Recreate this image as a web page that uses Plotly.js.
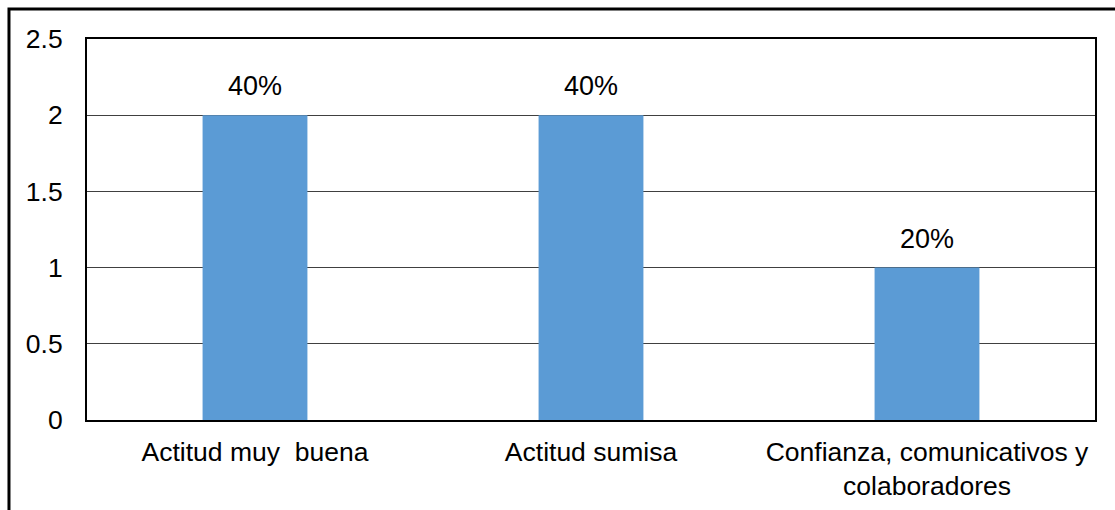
<!DOCTYPE html>
<html>
<head>
<meta charset="utf-8">
<script src="https://cdn.plot.ly/plotly-3.0.1.min.js"></script>
<style>
html,body{margin:0;padding:0;background:#fff;}
#chart{width:1115px;height:510px;}
</style>
</head>
<body>
<div id="chart"></div>
<script>
const categories = ["Actitud muy  buena", "Actitud sumisa", "Confianza, comunicativos y<br>colaboradores"];
const values = [2, 2, 1];
const labels = ["40%", "40%", "20%"];
const yTicks = [0, 0.5, 1, 1.5, 2, 2.5];
const yTickText = ["0", "0.5", "1", "1.5", "2", "2.5"];

const FONT = "Liberation Sans, Arial, sans-serif";

const trace = {
  type: "bar",
  x: categories,
  y: values,
  marker: {color: "#5B9BD5", line: {width: 0}},
  hoverinfo: "none"
};

const annotations = categories.map((c, i) => ({
  x: c, y: values[i], xref: "x", yref: "y",
  text: labels[i], showarrow: false,
  yanchor: "bottom", yshift: 12,
  font: {family: FONT, size: 27, color: "#000"}
}));

const frame = {
  type: "rect", xref: "paper", yref: "paper",
  x0: -0.0774, x1: 1.1, y0: -0.3, y1: 1.0787,
  line: {color: "#000", width: 3}, fillcolor: "rgba(0,0,0,0)", layer: "above"
};

const layout = {
  width: 1115, height: 510,
  margin: {l: 87, r: 20, t: 39, b: 90, pad: 0},
  paper_bgcolor: "#fff", plot_bgcolor: "#fff",
  showlegend: false,
  bargap: 0.688,
  font: {family: FONT, color: "#000"},
  xaxis: {
    type: "category",
    showgrid: false, zeroline: false,
    showline: true, linecolor: "#000", linewidth: 2, mirror: true,
    ticks: "", ticklabelstandoff: 7,
    tickfont: {family: FONT, size: 26.5, color: "#000"}
  },
  yaxis: {
    range: [0, 2.5], tickmode: "array", tickvals: yTicks, ticktext: yTickText,
    showgrid: true, gridcolor: "#404040", gridwidth: 1,
    zeroline: false,
    showline: true, linecolor: "#000", linewidth: 2, mirror: true,
    ticks: "", ticklabelstandoff: 17,
    tickfont: {family: FONT, size: 26.5, color: "#000"}
  },
  annotations: annotations,
  shapes: [frame]
};

Plotly.newPlot("chart", [trace], layout, {staticPlot: true, displayModeBar: false});
</script>
</body>
</html>
